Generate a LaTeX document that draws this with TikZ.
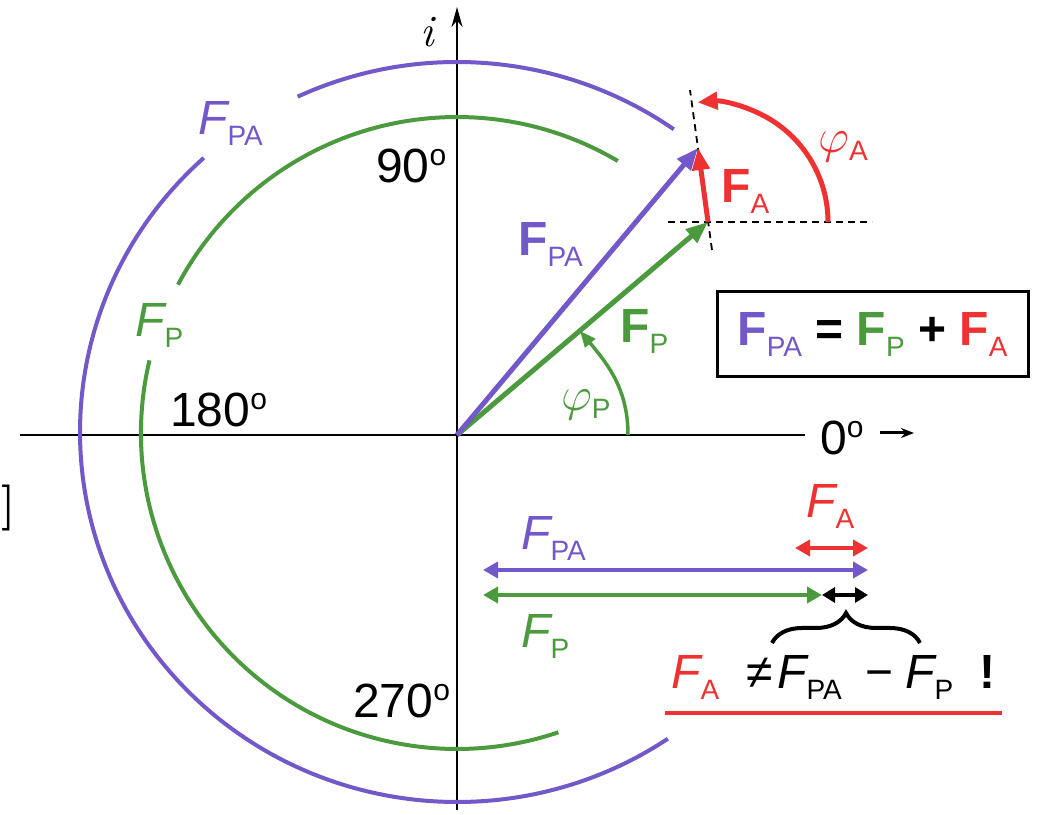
\documentclass[tikz,border=0pt]{standalone}
\usepackage{fix-cm}
\usepackage{fontspec}
\newfontfamily\ar{Liberation Sans}
\usetikzlibrary{arrows.meta,decorations.pathreplacing}
\definecolor{cpur}{RGB}{114,88,200}
\definecolor{cgrn}{RGB}{76,154,62}
\definecolor{cred}{RGB}{238,50,50}
\newcommand\sbs[1]{\raisebox{-11pt}{\fontsize{28}{28}\selectfont\mdseries\upshape #1}}
\newcommand\Fi[1]{{\itshape F}\sbs{#1}}
\newcommand\Fb[1]{{\bfseries F}\sbs{#1}}
\newcommand\dg{\raisebox{17pt}{\fontsize{30}{30}\selectfont o}}
\newcommand\vphi[1]{$\varphi$\raisebox{-8pt}{\fontsize{28}{28}\selectfont #1}}
\begin{document}
\begin{tikzpicture}[x=1pt,y=1pt,
  txt/.style={font=\ar\fontsize{48}{48}\selectfont, inner sep=0pt, anchor=base west},
  ax/.style={line width=2.5pt, black},
  arcP/.style={line width=4pt, cpur},
  arcG/.style={line width=4pt, cgrn},
  vec/.style={line width=5pt, -{Triangle[length=22pt,width=17pt]}},
  dbl/.style={line width=4.5pt, {Triangle[length=15pt,width=16pt]}-{Triangle[length=15pt,width=16pt]}},
  dsh/.style={line width=1.8pt, dash pattern=on 7pt off 5pt},
]
\useasboundingbox (0,0) rectangle (1038,814);
% centres
\coordinate (O) at (457,379);
\coordinate (CP) at (457,382);
\coordinate (CG) at (457,381);
% axes
\coordinate (xl) at (20,379);
\coordinate (xr) at (805,379);
\coordinate (yb) at (457,4);
\coordinate (yt) at (457,807);
\draw[ax] (xl) -- (xr);
\draw[ax, -{Stealth[length=20pt,width=11pt]}] (yb) -- (yt);
% circles
\draw[arcP] ([shift={(54.9:377 and 370)}]CP) arc[start angle=54.9, end angle=115, x radius=377, y radius=370];
\draw[arcP] ([shift={(132.2:377 and 370)}]CP) arc[start angle=132.2, end angle=304, x radius=377, y radius=370];
\draw[arcG] ([shift={(59.4:316)}]CG) arc[start angle=59.4, end angle=152, radius=316];
\draw[arcG] ([shift={(166.7:316)}]CG) arc[start angle=166.7, end angle=288.7, radius=316];
% vectors
\coordinate (TP) at (708,592);
\coordinate (TPA) at (698,666);
\coordinate (dh1) at (668,592);
\coordinate (dh2) at (872,592);
\coordinate (ds1) at (712,564);
\coordinate (ds2) at (690,724);
\draw[dsh] (dh1) -- (dh2);
\draw[dsh] (ds1) -- (ds2);
\draw[vec, cgrn] (O) -- (TP);
\draw[vec, cpur] (O) -- (TPA);
\draw[vec, cred] (TP) -- (TPA);
% angle arcs
\coordinate (pa0) at (828,592);
\draw[line width=5pt, cred, -{Triangle[length=20pt,width=17pt]}] (pa0) arc[start angle=0, end angle=95, radius=120];
\coordinate (pp0) at (628,379);
\coordinate (pp1) at (580,483);
\draw[line width=3.5pt, cgrn, -{Triangle[length=16pt,width=13pt]}] (pp0) to[out=90, in=-50] (pp1);
% labels
\node[inner sep=0pt, font=\fontsize{45}{45}\selectfont\itshape, anchor=base west] (li) at (420,767) {i};
\node[inner sep=0pt, font=\fontsize{46}{46}\selectfont\bfseries, anchor=center] (lbr) at (9,306) {]};
\node[txt, cpur] (lfpa) at (198,679) {\Fi{PA}};
\node[txt] (l90) at (376,631) {90\dg};
\node[txt, cgrn] (lfp) at (135,477) {\Fi{P}};
\node[txt] (l180) at (170,387) {180\dg};
\node[txt] (l270) at (353,97) {270\dg};
\node[txt] (l0) at (820,359) {0\dg};
\coordinate (ar1) at (880,381);
\coordinate (ar2) at (914,381);
\draw[line width=3pt, -{Stealth[length=13pt,width=10pt]}] (ar1) -- (ar2);
\node[txt, cpur] (vfpa) at (518,558) {\Fb{PA}};
\node[txt, cgrn] (vfp) at (620,471) {\Fb{P}};
\node[txt, cgrn] (vphip) at (561,403) {\vphi{P}};
\node[txt, cred] (vfa) at (721,611) {\Fb{A}};
\node[txt, cred] (vphia) at (818,661) {\vphi{A}};
% box
\node[draw, line width=3pt, minimum width=311pt, minimum height=85pt, inner sep=0pt,
      font=\ar\fontsize{48}{48}\selectfont, anchor=center] (box) at (872.5,479.5)
  {{\color{cpur}\Fb{PA}} {\bfseries =} {\color{cgrn}\Fb{P}} {\bfseries +} {\color{cred}\Fb{A}}};
% bottom arrows
\coordinate (ra1) at (795,266); \coordinate (ra2) at (868,266);
\coordinate (pu1) at (483,244); \coordinate (pu2) at (868,244);
\coordinate (gr1) at (483,219); \coordinate (gr2) at (822,219);
\coordinate (bk2) at (868,219);
\draw[dbl, cred] (ra1) -- (ra2);
\draw[dbl, cpur] (pu1) -- (pu2);
\draw[dbl, cgrn] (gr1) -- (gr2);
\draw[line width=4.5pt, {Triangle[length=13pt,width=15pt]}-{Triangle[length=13pt,width=15pt]}] (gr2) -- (bk2);
\node[txt, cred] (bfa) at (806,296) {\Fi{A}};
\node[txt, cpur] (bfpa) at (521,264) {\Fi{PA}};
\node[txt, cgrn] (bfp) at (521,167) {\Fi{P}};
% brace
\coordinate (br1) at (772,171);
\coordinate (br2) at (920,171);
\draw[line width=4pt, decorate, decoration={brace, amplitude=30pt}] (br1) -- (br2);
% equation
\node[txt, cred] (e1) at (671,126) {\Fi{A}};
\node[txt] (e2) at (746,126) {≠};
\node[txt] (e3) at (777,126) {\Fi{PA}};
\node[txt] (e4) at (865,126) {−};
\node[txt] (e5) at (905,126) {\Fi{P}};
\node[txt] (e6) at (979,126) {\bfseries !};
\coordinate (u1) at (665,101);
\coordinate (u2) at (1002,101);
\draw[line width=4pt, cred] (u1) -- (u2);
\end{tikzpicture}
\end{document}
